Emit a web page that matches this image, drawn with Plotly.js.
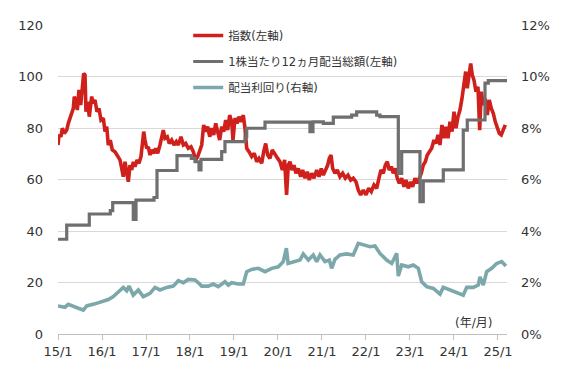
<!DOCTYPE html>
<html><head><meta charset="utf-8">
<script src="https://cdn.plot.ly/plotly-3.0.1.min.js"></script>
<style>html,body{margin:0;padding:0;background:#fff}#chart{width:567px;height:378px}</style>
</head><body><div id="chart"></div>
<script>
// ---- data (time in decimal years) ----
const xTickVals = [2015,2016,2017,2018,2019,2020,2021,2022,2023,2024,2025];
const xTickText = ['15/1','16/1','17/1','18/1','19/1','20/1','21/1','22/1','23/1','24/1','25/1'];

const seriesNames = ['指数(左軸)','1株当たり12ヵ月配当総額(左軸)','配当利回り(右軸)'];

const indexTime = [2015.000,2015.023,2015.068,2015.098,2015.143,2015.198,2015.234,2015.273,2015.311,2015.348,2015.370,2015.409,2015.439,2015.477,2015.516,2015.552,2015.584,2015.614,2015.636,2015.675,2015.711,2015.766,2015.802,2015.841,2015.886,2015.932,2015.977,
2016.030,2016.068,2016.107,2016.143,2016.189,2016.234,2016.295,2016.357,2016.409,2016.448,2016.484,2016.523,2016.561,2016.598,2016.636,2016.675,2016.711,2016.750,2016.795,2016.841,2016.886,2016.916,2016.948,2016.977,
2017.016,2017.052,2017.091,2017.130,2017.175,2017.220,2017.266,2017.318,2017.357,2017.393,2017.432,2017.484,2017.530,2017.584,2017.636,2017.689,2017.734,2017.795,2017.848,2017.902,2017.961,
2018.023,2018.075,2018.130,2018.175,2018.220,2018.266,2018.311,2018.357,2018.402,2018.448,2018.493,2018.539,2018.584,2018.630,2018.675,2018.720,2018.766,2018.811,2018.857,2018.902,2018.948,2018.977,
2019.023,2019.068,2019.114,2019.159,2019.211,2019.250,2019.289,2019.341,2019.402,2019.461,2019.516,2019.568,2019.630,2019.675,2019.720,2019.766,2019.818,2019.870,2019.932,2019.993,
2020.045,2020.100,2020.150,2020.195,2020.234,2020.273,2020.318,2020.364,2020.409,2020.461,2020.516,2020.561,2020.614,2020.666,2020.711,2020.766,2020.818,2020.880,2020.932,2020.984,
2021.030,2021.084,2021.130,2021.166,2021.205,2021.243,2021.295,2021.348,2021.409,2021.470,2021.530,2021.591,2021.652,2021.711,2021.773,2021.825,2021.880,2021.939,
2022.000,2022.061,2022.120,2022.182,2022.243,2022.295,2022.341,2022.393,2022.439,2022.484,2022.530,2022.575,2022.620,2022.666,2022.711,2022.757,2022.811,2022.864,2022.909,2022.961,
2023.016,2023.061,2023.114,2023.166,2023.211,2023.257,2023.302,2023.348,2023.393,2023.439,2023.493,2023.545,2023.591,2023.636,2023.682,2023.727,2023.773,2023.818,2023.864,2023.909,2023.955,
2024.000,2024.045,2024.091,2024.136,2024.182,2024.227,2024.266,2024.302,2024.341,2024.380,2024.416,2024.455,2024.500,2024.545,2024.584,2024.620,2024.666,2024.711,2024.757,2024.802,2024.848,2024.893,2024.939,2024.984,
2025.030,2025.075,2025.120,2025.166];
const indexValues = [73.4,77.3,76.6,79.9,77.9,79.2,81.8,83.8,85,87.6,92.2,90.2,87,94.8,88.9,96.7,101.2,100.6,86.3,90.2,84.4,92.2,89.6,90.9,86.3,87.6,83.1,
83.8,78.6,80.5,73.4,75.3,71.5,70.8,68.9,67.6,64.3,61.1,66.9,63,59.1,65.6,63.7,66.9,65,67.6,66.3,68.9,74,78.6,75.3,
72.1,72.7,69.5,71.5,70.2,72.1,70.2,73.4,76.6,79.2,76,76.6,74,75.3,73.4,74.7,73.4,76.6,73.4,74,72.1,
72.7,70.8,67.6,68.9,71.5,73.4,81.2,78.6,80.5,76.6,79.9,77.3,81.8,78.6,75.3,80.5,78.6,83.1,79.2,85,82.4,75.3,
83.8,81.8,84.4,82.4,85,79.9,72.1,70.8,68.9,70.2,66.9,68.2,66.3,70.8,74,69.5,68.2,71.5,69.5,68.2,
66.9,63.7,67.6,54,65.6,66.9,63.7,65.6,62.4,64.3,61.1,63.7,60.5,63,59.8,62.4,60.5,63.7,61.1,64.3,
61.7,63.7,65.6,68.2,69.5,64.3,62.4,63.7,61.1,62.4,60.5,61.7,59.8,60.5,59.1,55.9,54,55.9,
54,56.6,55.3,57.9,56.6,60.5,63.7,62.4,65.6,66.9,63.7,65,62.4,64.3,60.5,58.5,60.5,57.2,59.8,56.6,
59.1,57.2,60.5,58.5,60.5,62.4,65.6,66.9,69.5,70.8,72.1,75.3,74,77.3,73.4,81.2,76,80.5,76,82.4,78.6,
86.3,79.9,84.4,87,91.5,96,101.9,95.4,99.3,105.1,100.6,98.6,94.1,96,79.2,94.1,88.9,91.5,85,90.9,87.6,85.7,82.4,80.5,
77.9,77.3,79.2,81.2];

const divTime = [2015.000,2015.198,2015.711,2016.189,2016.243,2016.711,2016.773,2017.182,2017.250,2017.705,2018.030,2018.114,2018.205,2018.250,2018.720,2018.795,2019.250,2019.289,2019.705,2020.727,2020.795,2021.030,2021.257,2021.674,2021.788,2022.243,2022.318,2022.735,2022.811,2023.227,2023.302,2023.757,2024.211,2024.302,2024.705,2024.780,2025.205];
const divValues = [36.8,42.3,46.6,47.9,51,44.5,52,53,63.5,69.3,68.2,66.9,63.7,67.8,70.8,74.7,76.6,79.9,82.3,78.6,82.4,81.8,84.2,85,86.3,85,84.4,62.4,70.8,51.4,59.5,63.7,79.2,83.1,97.4,98.4,98.4];

const yieldTime = [2015.000,2015.159,2015.234,2015.348,2015.461,2015.575,2015.652,2015.841,2015.993,2016.143,2016.257,2016.370,2016.484,2016.561,2016.614,2016.711,2016.825,2016.939,2017.091,2017.205,2017.318,2017.470,2017.620,2017.734,2017.848,2017.961,2018.114,2018.189,2018.266,2018.416,2018.530,2018.643,2018.795,2018.870,2018.948,2019.098,2019.211,2019.289,2019.402,2019.552,2019.705,2019.857,2020.007,2020.120,2020.190,2020.230,2020.348,2020.500,2020.575,2020.689,2020.802,2020.880,2020.955,2021.068,2021.166,2021.220,2021.295,2021.409,2021.561,2021.711,2021.825,2021.939,2022.091,2022.205,2022.318,2022.470,2022.584,2022.698,2022.734,2022.811,2022.961,2023.075,2023.189,2023.266,2023.380,2023.530,2023.682,2023.757,2023.909,2024.061,2024.211,2024.289,2024.439,2024.552,2024.591,2024.666,2024.743,2024.857,2024.970,2025.084,2025.182];
const yieldValues = [1.09,1.04,1.15,1.09,1.00,0.93,1.09,1.17,1.25,1.34,1.45,1.64,1.81,1.68,1.86,1.51,1.71,1.45,1.58,1.81,1.71,1.81,1.86,2.07,1.99,2.12,2.10,1.99,1.86,1.86,1.94,1.84,2.03,1.90,1.99,1.94,1.94,2.42,2.51,2.55,2.42,2.55,2.61,2.81,3.33,2.74,2.81,2.87,3.11,2.87,3.07,2.81,3.07,2.81,2.87,2.55,2.90,3.07,3.11,3.07,3.52,3.46,3.39,3.42,3.13,2.87,2.74,3.13,2.25,2.68,2.61,2.68,2.55,2.03,1.84,1.77,1.55,1.81,1.71,1.64,1.51,1.81,1.81,1.90,2.22,1.90,2.42,2.55,2.74,2.81,2.64];

// ---- chart ----
const FONT = 'DejaVu Sans, Noto Sans CJK JP, sans-serif';
const traces = [
  {x: indexTime, y: indexValues, name: seriesNames[0], type: 'scatter', mode: 'lines',
   line: {color: '#D0201C', width: 3.6}, legendgroup: 'a', yaxis: 'y'},
  {x: divTime, y: divValues, name: seriesNames[1], type: 'scatter', mode: 'lines',
   line: {color: '#6F6F6F', width: 3.2, shape: 'hv'}, legendgroup: 'b', yaxis: 'y'},
  {x: yieldTime, y: yieldValues, name: seriesNames[2], type: 'scatter', mode: 'lines',
   line: {color: '#7CA8AC', width: 3.6}, legendgroup: 'c', yaxis: 'y2'}
];

const layout = {
  width: 567, height: 378,
  margin: {l: 58, r: 60, t: 25, b: 44, pad: 0},
  paper_bgcolor: '#fff', plot_bgcolor: '#fff',
  font: {family: FONT, size: 13, color: '#404040'},
  showlegend: true,
  legend: {x: 0.29, y: 1.013, xanchor: 'left', yanchor: 'top', bgcolor: 'rgba(0,0,0,0)',
           font: {family: FONT, size: 11.5, color: '#333333'}, traceorder: 'grouped', tracegroupgap: 7},
  xaxis: {type: 'linear', range: [2015, 2025.205], tickmode: 'array',
          tickvals: xTickVals, ticktext: xTickText, showgrid: false, zeroline: false,
          showline: true, linecolor: '#BFBFBF', linewidth: 1,
          ticks: 'outside', ticklen: 5, tickcolor: '#BFBFBF', tickfont: {size: 13, color: '#333333'}},
  yaxis: {range: [0, 120], dtick: 20, tick0: 0, showgrid: true, gridcolor: '#D9D9D9', gridwidth: 1,
          zeroline: false, showline: false, ticks: '', ticklabelstandoff: 14,
          tickfont: {size: 13, color: '#333333'}},
  yaxis2: {range: [0, 12], dtick: 2, tick0: 0, overlaying: 'y', side: 'right', showgrid: false,
           zeroline: false, showline: false, ticks: '', ticksuffix: '%', ticklabelstandoff: 13,
           tickfont: {size: 13, color: '#333333'}},
  annotations: [{text: '(年/月)', xref: 'paper', yref: 'paper', x: 0.97, y: 0.036,
                 xanchor: 'right', yanchor: 'middle', showarrow: false,
                 font: {family: FONT, size: 12, color: '#333333'}}]
};
Plotly.newPlot('chart', traces, layout, {staticPlot: true, displayModeBar: false});
</script></body></html>
